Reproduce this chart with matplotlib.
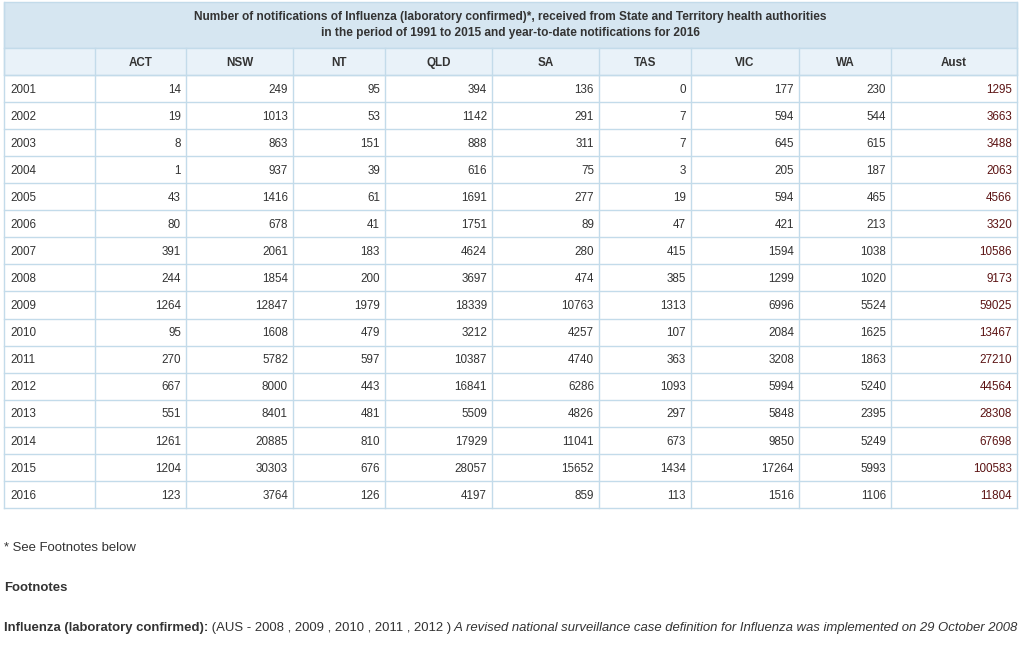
import matplotlib
matplotlib.use("Agg")

import matplotlib.pyplot as plt
from matplotlib.patches import Rectangle

# Datos de la tabla
years = [2001, 2002, 2003, 2004, 2005, 2006, 2007, 2008,
         2009, 2010, 2011, 2012, 2013, 2014, 2015, 2016]
columns = ["ACT", "NSW", "NT", "QLD", "SA", "TAS", "VIC", "WA", "Aust"]

act = [14, 19, 8, 1, 43, 80, 391, 244, 1264, 95, 270, 667, 551, 1261, 1204, 123]
nsw = [249, 1013, 863, 937, 1416, 678, 2061, 1854, 12847, 1608, 5782, 8000, 8401, 20885, 30303, 3764]
nt = [95, 53, 151, 39, 61, 41, 183, 200, 1979, 479, 597, 443, 481, 810, 676, 126]
qld = [394, 1142, 888, 616, 1691, 1751, 4624, 3697, 18339, 3212, 10387, 16841, 5509, 17929, 28057, 4197]
sa = [136, 291, 311, 75, 277, 89, 280, 474, 10763, 4257, 4740, 6286, 4826, 11041, 15652, 859]
tas = [0, 7, 7, 3, 19, 47, 415, 385, 1313, 107, 363, 1093, 297, 673, 1434, 113]
vic = [177, 594, 645, 205, 594, 421, 1594, 1299, 6996, 2084, 3208, 5994, 5848, 9850, 17264, 1516]
wa = [230, 544, 615, 187, 465, 213, 1038, 1020, 5524, 1625, 1863, 5240, 2395, 5249, 5993, 1106]
aust = [1295, 3663, 3488, 2063, 4566, 3320, 10586, 9173, 59025, 13467, 27210, 44564, 28308, 67698, 100583, 11804]

title = ("Number of notifications of Influenza (laboratory confirmed)*, received from State and Territory health authorities\n"
         "in the period of 1991 to 2015 and year-to-date notifications for 2016")

values = [act, nsw, nt, qld, sa, tas, vic, wa, aust]

# Geometria (pixeles)
col_edges = [4, 95, 186, 293, 385, 492, 599, 691, 799, 891, 1017]
top = 2
title_h = 46
head_h = 27
row_h = 27.06
half_cap = 4.2  # mitad de la altura de mayusculas, para centrar con baseline

border = "#c3dbea"
txt = "#333333"
font = "Liberation Sans"
fs_note = 9.42

fig = plt.figure(figsize=(10.22, 6.47), dpi=100)
ax = fig.add_axes([0, 0, 1, 1])
ax.set_xlim(0, 1022)
ax.set_ylim(647, 0)
ax.axis("off")

left, right = col_edges[0], col_edges[-1]

# Titulo
ax.add_patch(Rectangle((left, top), right - left, title_h, facecolor="#d6e6f1",
                       edgecolor=border, lw=1))
ax.text((left + right) / 2, top + title_h / 2, title, ha="center", va="center",
        fontsize=8.6, fontweight="bold", color=txt, family=font, linespacing=1.45)

# Encabezado
y0 = top + title_h
ax.add_patch(Rectangle((left, y0), right - left, head_h, facecolor="#e9f2f9",
                       edgecolor=border, lw=1))
for i, c in enumerate(columns):
    xc = (col_edges[i + 1] + col_edges[i + 2]) / 2
    ax.text(xc, y0 + head_h / 2 + half_cap, c, ha="center", va="baseline",
            fontsize=8.4, fontweight="bold", color=txt, family=font)

# Filas
y1 = y0 + head_h
n = len(years)
for r, yr in enumerate(years):
    yc = y1 + (r + 0.5) * row_h + half_cap
    ax.text(col_edges[0] + 6, yc, str(yr), ha="left", va="baseline",
            fontsize=8.4, color=txt, family=font)
    for i, col in enumerate(values):
        color = "#5c1414" if columns[i] == "Aust" else txt
        ax.text(col_edges[i + 2] - 5, yc, str(col[r]), ha="right",
                va="baseline", fontsize=8.4, color=color, family=font)

# Lineas de la tabla
y_end = y1 + n * row_h
for r in range(n + 1):
    y = y1 + r * row_h
    ax.plot([left, right], [y, y], color=border, lw=1)
for x in col_edges:
    ax.plot([x, x], [y0, y_end], color=border, lw=1)
ax.plot([left, left], [top, y0], color=border, lw=1)
ax.plot([right, right], [top, y0], color=border, lw=1)

# Notas
ax.text(4, 548, "* See Footnotes below", ha="left", va="center", fontsize=fs_note,
        color=txt, family=font)
ax.text(4, 588, "Footnotes", ha="left", va="center", fontsize=fs_note,
        fontweight="bold", color=txt, family=font)

t1 = ax.text(4, 628, "Influenza (laboratory confirmed):", ha="left", va="center",
             fontsize=fs_note, fontweight="bold", color=txt, family=font)
t2 = ax.annotate(" (AUS - 2008 , 2009 , 2010 , 2011 , 2012 )", xy=(1, 0),
                 xycoords=t1, ha="left", va="bottom", fontsize=fs_note, color=txt,
                 family=font)
ax.annotate(" A revised national surveillance case definition for Influenza was implemented on 29 October 2008",
            xy=(1, 0), xycoords=t2, ha="left", va="bottom", fontsize=fs_note,
            style="italic", color=txt, family=font)

fig.savefig("out.png", dpi=100)
